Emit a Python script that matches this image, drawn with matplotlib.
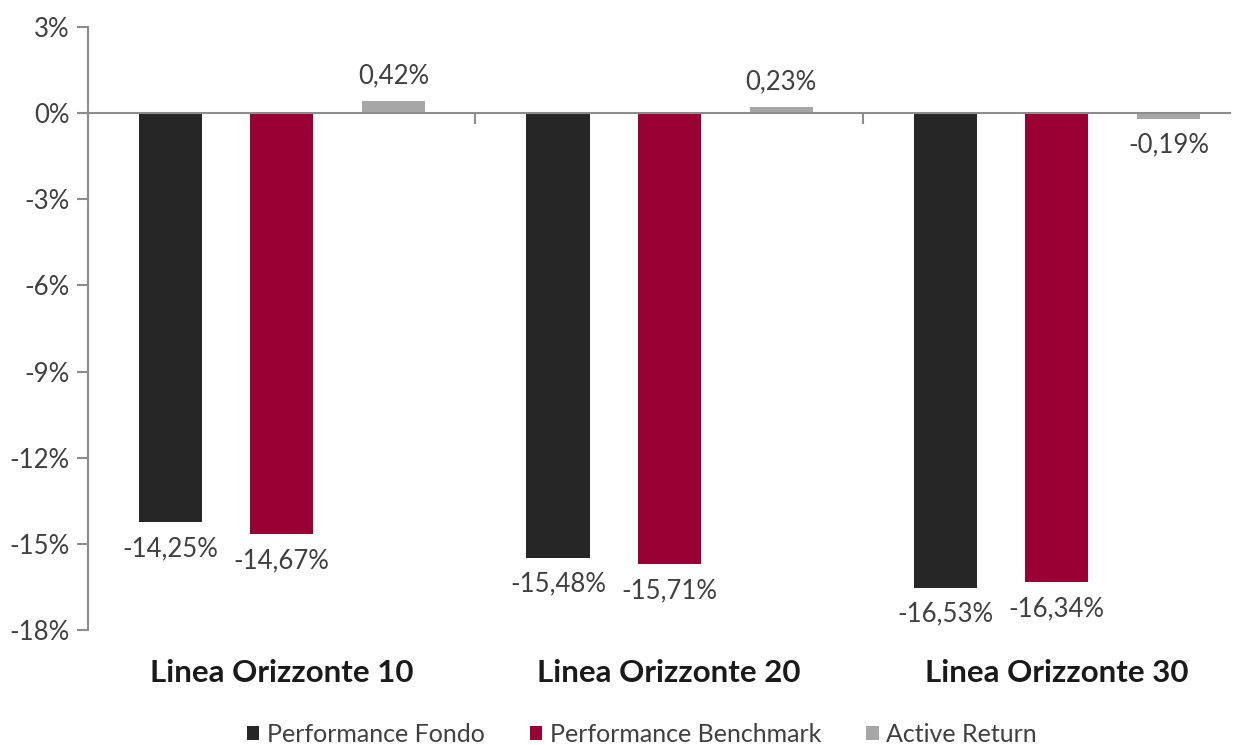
import matplotlib.pyplot as plt
import numpy as np

categories = ["Linea Orizzonte 10", "Linea Orizzonte 20", "Linea Orizzonte 30"]
fondo = [-14.25, -15.48, -16.53]
benchmark = [-14.67, -15.71, -16.34]
active = [0.42, 0.23, -0.19]
series_names = ["Performance Fondo", "Performance Benchmark", "Active Return"]
colors = ["#262626", "#990033", "#A6A6A6"]
yticks = [3, 0, -3, -6, -9, -12, -15, -18]

plt.rcParams['font.family'] = ['Lato', 'DejaVu Sans']

fig = plt.figure(figsize=(12.44, 7.45), dpi=100)
ax = fig.add_axes([0.0707, 0.1544, 0.9183, 0.8094])

x = np.arange(len(categories))
width = 0.163
offsets = [-0.287, 0.0, 0.289]
text_color = "#404040"

for vals, off, col, name in zip([fondo, benchmark, active], offsets, colors, series_names):
    bars = ax.bar(x + off, vals, width, color=col, label=name, zorder=2)
    for b, v in zip(bars, vals):
        lbl = f"{v:.2f}%".replace(".", ",")
        if v >= 0:
            ax.annotate(lbl, (b.get_x() + b.get_width() / 2, v), xytext=(0, 9),
                        textcoords="offset points", ha="center", va="bottom",
                        fontsize=18.5, color=text_color)
        else:
            ax.annotate(lbl, (b.get_x() + b.get_width() / 2, v), xytext=(0, -10),
                        textcoords="offset points", ha="center", va="top",
                        fontsize=18.5, color=text_color)

ax.set_ylim(-18, 3)
ax.set_xlim(-0.5, 2.448)
ax.set_yticks(yticks)
ax.set_yticklabels([f"{t}%" for t in yticks], fontsize=18.5, color=text_color)

for s in ["top", "right"]:
    ax.spines[s].set_visible(False)
ax.spines["left"].set_color("#8c8c8c")
ax.spines["left"].set_linewidth(1.5)
ax.spines["bottom"].set_position(("data", 0))
ax.spines["bottom"].set_color("#8c8c8c")
ax.spines["bottom"].set_linewidth(1.5)
ax.spines["bottom"].set_zorder(3)
ax.tick_params(axis="y", colors="#8c8c8c", length=8, width=1.5, labelcolor=text_color, pad=5)
ax.set_xticks([0.5, 1.5])
ax.set_xticklabels([])
ax.tick_params(axis="x", colors="#8c8c8c", length=8, width=1.5, direction="out")

for xi, c in zip(x, categories):
    ax.text(xi, -19.5, c, ha="center", va="center", fontsize=22.5, fontweight="bold",
            color="#1a1a1a", transform=ax.transData, clip_on=False)

fig.legend(loc="lower center", bbox_to_anchor=(0.516, -0.031), ncol=3, frameon=False,
           fontsize=18, handlelength=0.5, handleheight=0.5, handletextpad=0.3,
           columnspacing=1.8, labelcolor=text_color)

fig.savefig("out.png", dpi=100)
